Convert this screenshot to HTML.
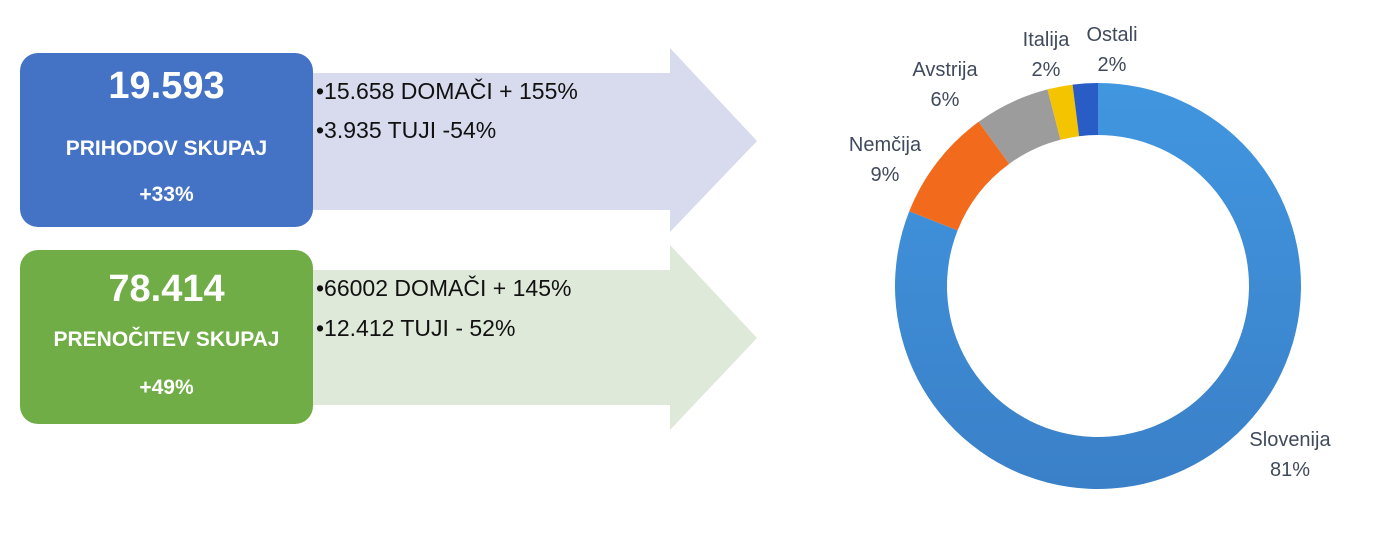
<!DOCTYPE html>
<html><head><meta charset="utf-8"><style>
body{margin:0;width:1374px;height:539px;background:#fff;overflow:hidden;font-family:"Liberation Sans",sans-serif;position:relative}
.box{position:absolute;left:20px;width:293px;height:174px;border-radius:18px;color:#fff;text-align:center;font-weight:bold}
.big{position:absolute;left:0;right:0;font-size:38px}
.mid{position:absolute;left:0;right:0;font-size:21px}
.bul{position:absolute;left:316px;font-size:23px;color:#111}
</style></head><body>
<svg width="1374" height="539" style="position:absolute;left:0;top:0">
<polygon points="313,73 670,73 670,48 757,141 670,232 670,210 313,210" fill="#d8dbee"/>
<polygon points="313,270 670,270 670,245 757,338 670,430 670,405 313,405" fill="#dfe9d9"/>
</svg>
<div class="box" style="top:53px;background:#4472c4">
<div class="big" style="top:12px">19.593</div>
<div class="mid" style="top:84px">PRIHODOV SKUPAJ</div>
<div class="mid" style="top:130px">+33%</div>
</div>
<div class="box" style="top:250px;background:#70ad47">
<div class="big" style="top:18px">78.414</div>
<div class="mid" style="top:78px">PRENOČITEV SKUPAJ</div>
<div class="mid" style="top:126px">+49%</div>
</div>
<div class="bul" style="top:78px">•15.658 DOMAČI + 155%</div>
<div class="bul" style="top:117px">•3.935 TUJI -54%</div>
<div class="bul" style="top:275px">•66002 DOMAČI + 145%</div>
<div class="bul" style="top:315px">•12.412 TUJI - 52%</div>
<svg id="donut" width="1374" height="539" style="position:absolute;left:0;top:0">
<defs><linearGradient id="g" x1="0" y1="0" x2="0" y2="1"><stop offset="0" stop-color="#4196e0"/><stop offset="1" stop-color="#3a80c8"/></linearGradient></defs>
</svg>
<script>
const categories=["Slovenija","Nemčija","Avstrija","Italija","Ostali"];
const values=[81,9,6,2,2];
const colors=["url(#g)","#f26b1d","#9c9c9c","#f5c400","#2a5cc6"];
const labelPos=[[1290,446],[885,151],[945,76],[1046,46],[1112,41]];
const svg=document.getElementById('donut');
const cx=1098,cy=286,R=203,r=151;
const total=values.reduce((a,b)=>a+b,0);
function pt(a,rad){return [cx+rad*Math.sin(a),cy-rad*Math.cos(a)];}
let a0=0;
values.forEach((v,i)=>{
  const a1=a0+v/total*2*Math.PI;
  const large=(a1-a0)>Math.PI?1:0;
  const p1=pt(a0,R),p2=pt(a1,R),p3=pt(a1,r),p4=pt(a0,r);
  const p=document.createElementNS('http://www.w3.org/2000/svg','path');
  p.setAttribute('d',`M${p1[0]},${p1[1]}A${R},${R} 0 ${large} 1 ${p2[0]},${p2[1]}L${p3[0]},${p3[1]}A${r},${r} 0 ${large} 0 ${p4[0]},${p4[1]}Z`);
  p.setAttribute('fill',colors[i]);
  
  
  svg.appendChild(p);
  const [lx,ly]=labelPos[i];
  [categories[i],v+'%'].forEach((s,k)=>{
    const t=document.createElementNS('http://www.w3.org/2000/svg','text');
    t.setAttribute('x',lx);t.setAttribute('y',ly+k*30);
    t.setAttribute('text-anchor','middle');t.setAttribute('font-size','20');
    t.setAttribute('fill','#404a5c');t.setAttribute('font-family','Liberation Sans, sans-serif');
    t.textContent=s;
    
    
    svg.appendChild(t);
  });
  a0=a1;
});
</script>
</body></html>
